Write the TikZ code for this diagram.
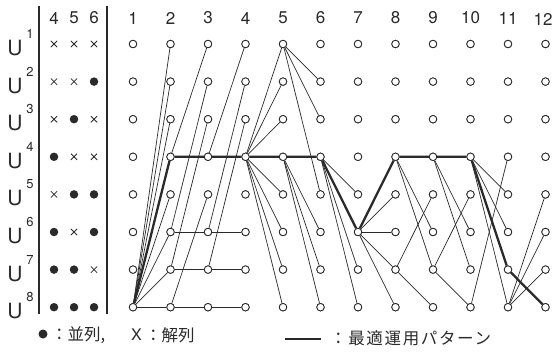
\documentclass[tikz,border=0pt]{standalone}
\usepackage{fontspec}
\setmainfont{TeX Gyre Heros}
\newfontfamily\jp{Noto Sans CJK JP}
\usetikzlibrary{shapes.misc}
\definecolor{ink}{HTML}{2A2A2A}
\begin{document}
\begin{tikzpicture}[x=1pt,y=-1pt,
  st/.style={circle,draw=ink,fill=white,line width=0.8pt,inner sep=0pt,minimum size=7.5pt},
  edge/.style={draw=ink,line width=0.7pt},
  best/.style={draw=ink,line width=2.3pt},
  on/.style={circle,fill=ink,inner sep=0pt,minimum size=8.5pt},
  off/.style={cross out,draw=ink,line width=0.8pt,inner sep=0pt,minimum size=5.5pt},
  hdr/.style={text=ink,font=\fontsize{17}{17}\selectfont,inner sep=0pt},
  ulab/.style={text=ink,font=\fontsize{21}{21}\selectfont,inner sep=0pt},
  usup/.style={text=ink,font=\fontsize{13}{13}\selectfont,inner sep=0pt},
  jptxt/.style={text=ink,font=\jp\fontsize{16.5}{16.5}\selectfont,inner sep=0pt},
  rule/.style={draw=ink,line width=1.1pt}]
\useasboundingbox[fill=white] (0,0) rectangle (552,354);
% column headers
\foreach \c in {1,...,11}
  \node[hdr] (h\c) at ({133+37.5*(\c-1)},18) {\c};
\node[hdr] (h12) at (543,19) {12};
\node[hdr] (g4) at (54,18) {4};
\node[hdr] (g5) at (74,18) {5};
\node[hdr] (g6) at (94,18) {6};
% separators
\coordinate (s1t) at (39,6); \coordinate (s1b) at (39,314);
\coordinate (s2t) at (107,6); \coordinate (s2b) at (107,314);
\draw[rule] (s1t) -- (s1b);
\draw[rule] (s2t) -- (s2b);
% row labels
\foreach \r in {1,...,8} {
  \node[ulab] (u\r) at (15,{48+37.6*(\r-1)}) {U};
  \node[usup] (us\r) at (30,{34+37.6*(\r-1)}) {\r};
}
% state matrix (units 4,5,6)
\foreach \r/\a/\b/\d in {1/off/off/off,2/off/off/on,3/off/on/off,4/on/off/off,5/off/on/on,6/on/off/on,7/on/on/off,8/on/on/on} {
  \node[\a] (m\r a) at (54,{44+37.6*(\r-1)}) {};
  \node[\b] (m\r b) at (74,{44+37.6*(\r-1)}) {};
  \node[\d] (m\r c) at (94,{44+37.6*(\r-1)}) {};
}
% state nodes
\foreach \c in {1,...,12}
  \foreach \r in {1,...,8}
    \node[st] (n\c-\r) at ({133+37.5*(\c-1)},{44+37.6*(\r-1)}) {};
% thin transitions
\foreach \a/\b in {
  1-8/2-1,1-8/2-2,1-8/2-3,1-8/2-5,1-8/2-6,1-8/2-7,1-8/2-8,
  2-4/3-1,2-6/3-2,2-7/3-3,2-8/3-5,2-6/3-6,2-7/3-7,2-8/3-8,
  3-4/4-1,3-6/4-2,3-7/4-3,3-6/4-6,3-7/4-7,3-8/4-8,
  4-4/5-1,4-4/5-2,4-4/5-3,4-4/5-5,4-4/5-6,4-4/5-7,4-4/5-8,
  5-1/6-2,5-1/6-3,5-1/6-5,5-4/6-6,5-4/6-7,5-4/6-8,
  6-4/7-5,6-4/7-7,6-4/7-8,
  7-6/8-5,7-6/8-6,7-6/8-7,7-6/8-8,
  8-4/9-6,8-4/9-7,8-7/9-5,8-7/9-8,
  9-4/10-6,9-4/10-7,9-7/10-5,9-7/10-8,
  10-4/11-5,10-4/11-6,10-4/11-8,10-8/11-4,
  11-8/12-5,11-8/12-6,11-8/12-7}
  \draw[edge] (n\a) -- (n\b);
% optimal pattern
\draw[best,line join=round] (n1-8) -- (n2-4) -- (n3-4) -- (n4-4) -- (n5-4) -- (n6-4)
  -- (n7-6) -- (n8-4) -- (n9-4) -- (n10-4) -- (n11-7) -- (n12-8);
\foreach \c in {1,...,12}
  \foreach \r in {1,...,8}
    \node[st] at (n\c-\r) {};
% legend
\node[on,minimum size=9pt] (lg1) at (43,334) {};
\node[jptxt,anchor=west] (lg2) at (51,335) {：並列,};
\node[hdr,anchor=west,font=\fontsize{16}{16}\selectfont] (lg3) at (131,335) {X};
\node[jptxt,anchor=west] (lg4) at (145,335) {：解列};
\coordinate (la) at (285,339);
\coordinate (lb) at (321,339);
\draw[best] (la) -- (lb);
\node[jptxt,anchor=west,font=\jp\fontsize{16.5}{16.5}\selectfont\addfontfeature{LetterSpace=10}] (lg5) at (330,338) {：最適運用パターン};
\end{tikzpicture}
\end{document}
